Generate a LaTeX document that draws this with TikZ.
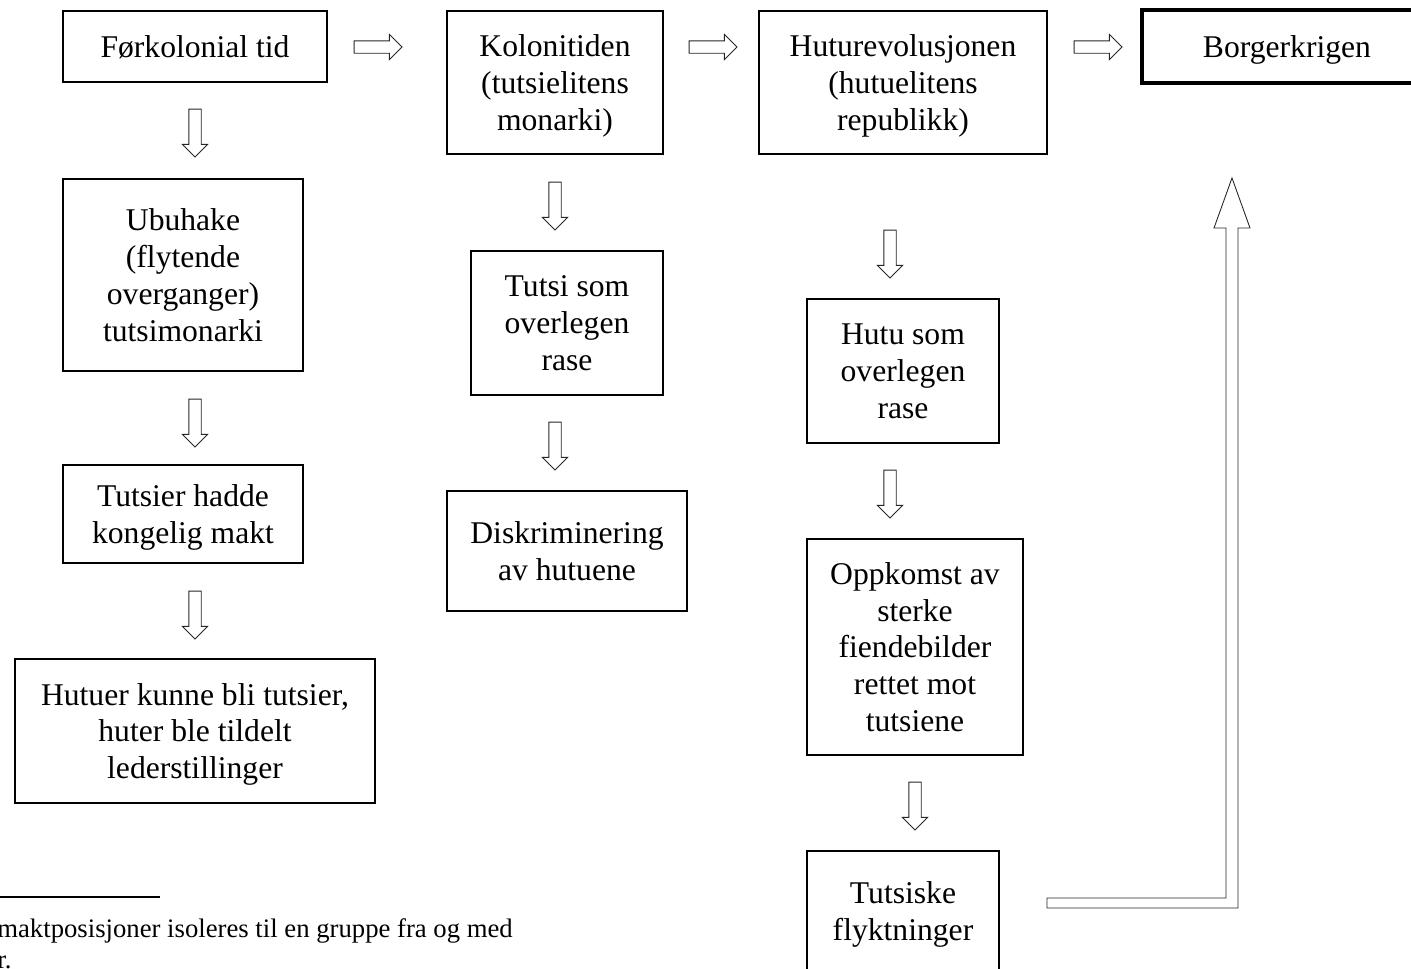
\documentclass[tikz,border=0pt]{standalone}
\usepackage{fontspec}
\setmainfont{Liberation Serif}
\usepackage{tikz}
\usetikzlibrary{shapes.arrows}
\tikzstyle{box} = [rectangle, draw=black, line width=0.8pt, align=center, inner sep=0pt, text depth=0pt, font=\fontsize{18}{21}\selectfont]
\tikzstyle{endbox} = [box, line width=2.6pt]
\tikzstyle{harrow} = [single arrow, draw=black!85, line width=0.5pt, minimum height=0.96cm, single arrow head extend=0.13cm, inner sep=0pt, text height=0.23cm, text depth=0pt]
\tikzstyle{varrow} = [harrow, rotate=-90]

\begin{document}
\begin{tikzpicture}[x=0.02cm, y=-0.02cm]
\useasboundingbox (0,0) rectangle (1411,968);
% top row
\node (Forkol)[box, minimum width=5.28cm, minimum height=1.42cm] at (195,46.5) {Førkolonial tid};
\node (Kolon)[box, minimum width=4.32cm, minimum height=2.86cm] at (555,82.5) {Kolonitiden\\(tutsielitens\\monarki)};
\node (Hutrev)[box, minimum width=5.76cm, minimum height=2.86cm] at (903,82.5) {Huturevolusjonen\\(hutuelitens\\republikk)};
\node (Borger)[endbox, minimum width=5.8cm, minimum height=1.46cm] at (1287,46.5) {Borgerkrigen};
% left column
\node (Ubuhake)[box, minimum width=4.8cm, minimum height=3.84cm] at (183,275) {Ubuhake\\(flytende\\overganger)\\tutsimonarki};
\node (Kongmakt)[box, minimum width=4.8cm, minimum height=1.96cm] at (183,514) {Tutsier hadde\\kongelig makt};
\node (Lederst)[box, minimum width=7.2cm, minimum height=2.88cm] at (195,731) {Hutuer kunne bli tutsier,\\huter ble tildelt\\lederstillinger};
% middle column
\node (Tutsirase)[box, minimum width=3.84cm, minimum height=2.88cm] at (567,323) {Tutsi som\\overlegen\\rase};
\node (Diskrim)[box, minimum width=4.8cm, minimum height=2.4cm] at (567,551) {Diskriminering\\av hutuene};
% right column
\node (Huturase)[box, minimum width=3.84cm, minimum height=2.88cm] at (903,371) {Hutu som\\overlegen\\rase};
\node (Fiende)[box, minimum width=4.32cm, minimum height=4.32cm] at (915,647) {Oppkomst av\\sterke\\fiendebilder\\rettet mot\\tutsiene};
\node (Flykt)[box, minimum width=3.84cm, minimum height=2.4cm] at (903,911) {Tutsiske\\flyktninger};
% block arrows
\node (AForkol)[harrow] at (375,47) {};
\node (AKolon)[harrow] at (710,47) {};
\node (AHutrev)[harrow] at (1095,47) {};
\node (AUbuhake)[varrow] at (195,130) {};
\node (AKongmakt)[varrow] at (195,420) {};
\node (ALederst)[varrow] at (195,612) {};
\node (ATutsirase)[varrow] at (555,203) {};
\node (ADiskrim)[varrow] at (555,443) {};
\node (AHuturase)[varrow] at (890,251) {};
\node (AFiende)[varrow] at (890,491) {};
\node (AFlykt)[varrow] at (915,803) {};
% bent arrow up to Borgerkrigen
\draw [draw=black!85, line width=0.5pt] (1047,898) -- (1226,898) -- (1226,228) -- (1214,228) -- (1232,178)
  -- (1250,228) -- (1238,228) -- (1238,908) -- (1047,908) -- cycle;
% footnote
\draw [line width=0.7pt] (0,897) -- (160,897);
\node (Fotnote)[anchor=north west, align=left, inner sep=0pt, font=\fontsize{15.2}{18}\selectfont] at (-3,918) {maktposisjoner isoleres til en gruppe fra og med\\r.};
\end{tikzpicture}
\end{document}
